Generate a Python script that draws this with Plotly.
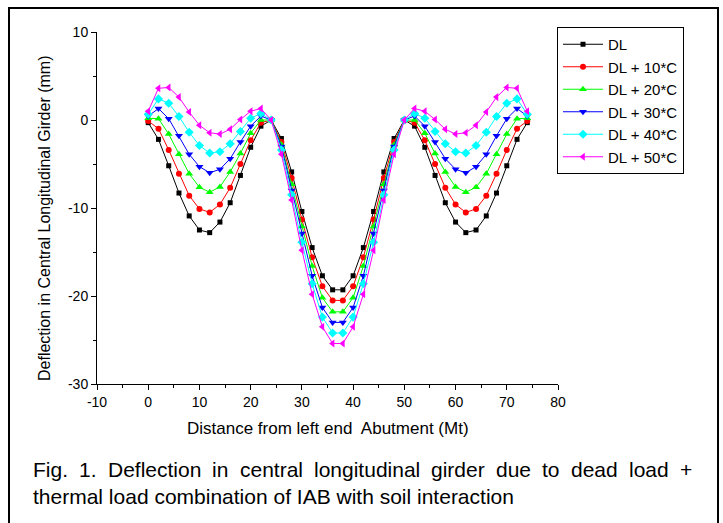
import plotly.graph_objects as go

distance = [0, 2, 4, 6, 8, 10, 12, 14, 16, 18, 20, 22, 24, 26, 28, 30, 32, 34, 36,
            38, 40, 42, 44, 46, 48, 50, 52, 54, 56, 58, 60, 62, 64, 66, 68, 70, 72, 74]

dl = [-0.3, -2.2, -5.2, -8.3, -10.9, -12.5, -12.8, -11.6, -9.4, -6.3, -3.1, -0.7, 0.0,
      -2.1, -5.9, -10.4, -14.5, -17.7, -19.3, -19.3, -17.7, -14.5, -10.4, -5.9, -2.1,
      0.0, -0.7, -3.1, -6.3, -9.4, -11.6, -12.8, -12.5, -10.9, -8.3, -5.2, -2.2, -0.3]
dl10 = [-0.1, -1.0, -3.4, -6.1, -8.6, -10.1, -10.5, -9.6, -7.7, -5.0, -2.3, -0.3, 0.0,
        -2.5, -6.6, -11.3, -15.6, -18.9, -20.5, -20.5, -18.9, -15.6, -11.3, -6.6, -2.5,
        0.0, -0.3, -2.3, -5.0, -7.7, -9.6, -10.5, -10.1, -8.6, -6.1, -3.4, -1.0, -0.1]
dl20 = [0.2, 0.15, -1.6, -3.9, -6.1, -7.65, -8.2, -7.6, -5.9, -3.8, -1.5, 0.0, 0.0,
        -2.8, -7.3, -12.1, -16.6, -20.2, -21.8, -21.8, -20.2, -16.6, -12.1, -7.3, -2.8,
        0.0, 0.0, -1.5, -3.8, -5.9, -7.6, -8.2, -7.65, -6.1, -3.9, -1.6, 0.15, 0.2]
dl30 = [0.45, 1.3, 0.15, -1.8, -3.9, -5.3, -6.0, -5.6, -4.4, -2.5, -0.7, 0.45, 0.0,
        -3.0, -8.0, -12.9, -17.7, -21.3, -23.0, -23.0, -21.3, -17.7, -12.9, -8.0, -3.0,
        0.0, 0.45, -0.7, -2.5, -4.4, -5.6, -6.0, -5.3, -3.9, -1.8, 0.15, 1.3, 0.45]
dl40 = [0.65, 2.4, 1.9, 0.4, -1.4, -2.9, -3.75, -3.6, -2.7, -1.3, 0.2, 0.75, 0.0,
        -3.4, -8.5, -13.9, -18.6, -22.4, -24.2, -24.2, -22.4, -18.6, -13.9, -8.5, -3.4,
        0.0, 0.75, 0.2, -1.3, -2.7, -3.6, -3.75, -2.9, -1.4, 0.4, 1.9, 2.4, 0.65]
dl50 = [1.0, 3.6, 3.7, 2.6, 0.9, -0.6, -1.45, -1.6, -1.05, 0.05, 1.0, 1.3, 0.0,
        -3.9, -9.1, -14.8, -19.8, -23.5, -25.4, -25.4, -23.5, -19.8, -14.8, -9.1, -3.9,
        0.0, 1.3, 1.0, 0.05, -1.05, -1.6, -1.45, -0.6, 0.9, 2.6, 3.7, 3.6, 1.0]

series_names = ["DL", "DL + 10*C", "DL + 20*C", "DL + 30*C", "DL + 40*C", "DL + 50*C"]
series_values = [dl, dl10, dl20, dl30, dl40, dl50]
colors = ["#000000", "#FF0000", "#00FF00", "#0000FF", "#00FFFF", "#FF00FF"]
symbols = ["square", "circle", "triangle-up", "triangle-down", "diamond", "triangle-left"]
sizes = [5, 6, 7, 7, 7, 7]

x_tickvals = [-10, 0, 10, 20, 30, 40, 50, 60, 70, 80]
x_ticktext = ["-10", "0", "10", "20", "30", "40", "50", "60", "70", "80"]
y_tickvals = [-30, -20, -10, 0, 10]
y_ticktext = ["-30", "-20", "-10", "0", "10"]

caption1_words = ["Fig.", "1.", "Deflection", "in", "central", "longitudinal", "girder",
                  "due", "to", "dead", "load", "+"]
caption2 = "thermal load combination of IAB with soil interaction"

FONT = "Liberation Sans, Arial, sans-serif"
CAP_SIZE = 21

# Arial / Liberation Sans advance widths (per em) used to justify caption line 1
ARIAL_W = {"F": 0.611, "i": 0.222, "g": 0.556, ".": 0.278, "1": 0.556, "D": 0.722,
           "e": 0.556, "f": 0.278, "l": 0.222, "c": 0.5, "t": 0.278, "o": 0.556,
           "n": 0.556, "r": 0.333, "a": 0.556, "u": 0.556, "d": 0.556, "+": 0.584}

# plot area in pixels
L, R, T, B = 97, 558, 32, 384
W, H = 723, 523


def px_x(p):
    return (p - L) / (R - L)


def px_y(p):
    return (B - p) / (B - T)


fig = go.Figure()
for name, vals, c, s, sz in zip(series_names, series_values, colors, symbols, sizes):
    fig.add_trace(go.Scatter(
        x=distance, y=vals, name=name, mode="lines+markers",
        line=dict(color=c, width=1),
        marker=dict(symbol=s, size=sz, color=c, line=dict(width=0)),
    ))

axis_common = dict(
    showline=True, linecolor="black", linewidth=1, mirror=False,
    ticks="outside", ticklen=5, tickwidth=1, tickcolor="black",
    showgrid=False, zeroline=False,
    tickfont=dict(family=FONT, size=14, color="black"),
)

fig.update_xaxes(range=[-10, 80], tickmode="array", tickvals=x_tickvals, ticktext=x_ticktext,
                 minor=dict(ticks="outside", ticklen=3, dtick=5, tick0=0, tickcolor="black",
                            showgrid=False),
                 **axis_common)
fig.update_yaxes(range=[-30, 10], tickmode="array", tickvals=y_tickvals, ticktext=y_ticktext,
                 minor=dict(ticks="outside", ticklen=3, dtick=5, tick0=0, tickcolor="black",
                            showgrid=False),
                 **axis_common)

annotations = [
    dict(text="Distance from left end\u00a0 Abutment (Mt)", xref="paper", yref="paper",
         x=0.5, y=px_y(428), xanchor="center", yanchor="middle", showarrow=False,
         font=dict(family=FONT, size=17, color="black")),
    dict(text="Deflection in Central Longitudinal Girder (mm)", xref="paper", yref="paper",
         x=px_x(44), y=px_y(219), xanchor="center", yanchor="middle", showarrow=False,
         textangle=-90, font=dict(family=FONT, size=16, color="black")),
    dict(text=caption2, xref="paper", yref="paper",
         x=px_x(31), y=px_y(496), xanchor="left", yanchor="middle", showarrow=False,
         font=dict(family=FONT, size=CAP_SIZE, color="black")),
]

# justify caption line 1 between x=31 and x=690 px
word_w = [sum(ARIAL_W[ch] for ch in w) * CAP_SIZE for w in caption1_words]
gap = (690 - 31 - sum(word_w)) / (len(caption1_words) - 1)
pos = 31.0
for w, ww in zip(caption1_words, word_w):
    annotations.append(dict(text=w, xref="paper", yref="paper",
                            x=px_x(pos), y=px_y(469), xanchor="left", yanchor="middle",
                            showarrow=False,
                            font=dict(family=FONT, size=CAP_SIZE, color="black")))
    pos += ww + gap

fig.update_layout(
    width=W, height=H,
    margin=dict(l=L, r=W - R, t=T, b=H - B, pad=0),
    paper_bgcolor="white", plot_bgcolor="white",
    font=dict(family=FONT, color="black"),
    showlegend=True,
    legend=dict(x=px_x(557), y=px_y(27), xanchor="left", yanchor="top",
                xref="paper", yref="paper",
                bordercolor="black", borderwidth=1, bgcolor="white",
                font=dict(family=FONT, size=15, color="black"),
                tracegroupgap=0, itemwidth=40),
    annotations=annotations,
    shapes=[dict(type="rect", xref="paper", yref="paper",
                 x0=px_x(9), x1=px_x(718), y0=px_y(540), y1=px_y(8),
                 line=dict(color="black", width=2), fillcolor="rgba(0,0,0,0)", layer="above")],
)

fig.write_html("out.html")
